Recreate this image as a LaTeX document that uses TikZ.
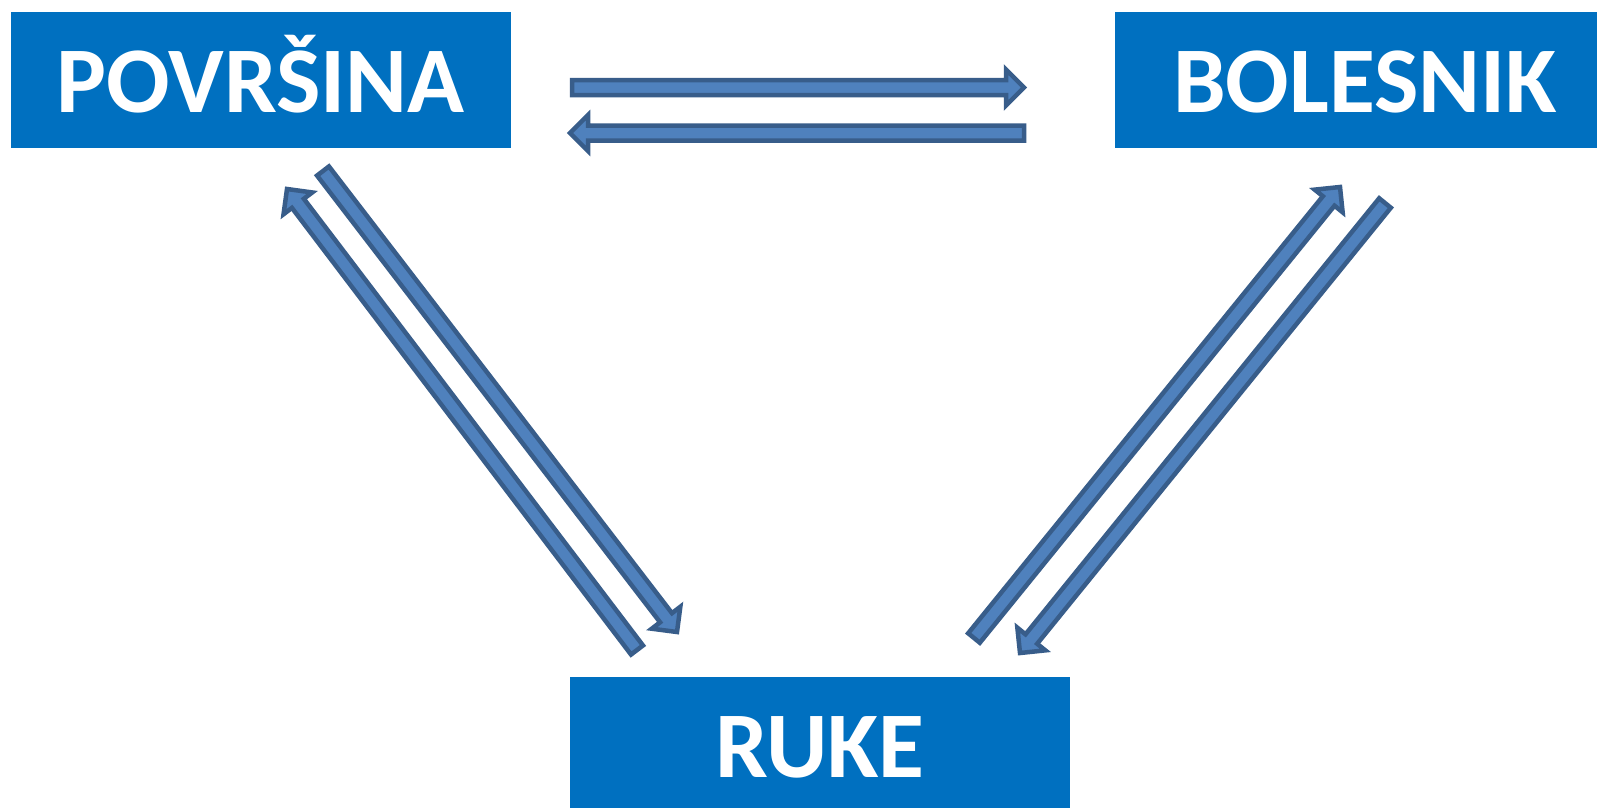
\documentclass[tikz,border=0pt]{standalone}
\usepackage{fontspec}
\setmainfont{Carlito}
\usetikzlibrary{calc}
\definecolor{boxblue}{HTML}{0070C0}
\definecolor{arrfill}{HTML}{4F81BD}
\definecolor{arrline}{HTML}{385D8A}
\tikzset{
  box/.style={fill=boxblue, draw=none, minimum width=500pt, minimum height=136pt,
    inner sep=0pt, text height=65pt, text depth=0pt, text=white,
    font=\fontsize{94}{100}\selectfont\bfseries},
  barrow/.style={fill=arrfill, draw=arrline, line width=4.5pt, line join=miter}
}
\newcommand\blockarr[2]{%
  \coordinate (hb) at ($(#2)!18pt!(#1)$);
  \draw[barrow] ($(#1)!7.5pt!90:(#2)$) -- ($(hb)!7.5pt!90:(#2)$) -- ($(hb)!18pt!90:(#2)$)
    -- (#2) -- ($(hb)!18pt!-90:(#2)$) -- ($(hb)!7.5pt!-90:(#2)$) -- ($(#1)!7.5pt!-90:(#2)$) -- cycle;}
\begin{document}
\begin{tikzpicture}[x=1pt,y=-1pt]
  \clip (0,0) rectangle (1597,807);
  \fill[white] (0,0) rectangle (1597,807);
  \node[box] (pov) at (260.5,80) {POVRŠINA};
  \node[box] (bol) at (1365,80) {BOLESNIK};
  \node[box] (ruke) at (820,745) {RUKE};
  % horizontal arrows
  \coordinate (t1) at (572,87.5);  \coordinate (h1) at (1024,87.5);
  \coordinate (t2) at (1024,133);  \coordinate (h2) at (570,133);
  % left pair
  \coordinate (t3) at (323,171);   \coordinate (h3) at (677,632);
  \coordinate (t4) at (637,650);   \coordinate (h4) at (287,189);
  % right pair
  \coordinate (t5) at (974,638);   \coordinate (h5) at (1340,187);
  \coordinate (t6) at (1385,203);  \coordinate (h6) at (1020,653);
  \blockarr{t1}{h1}
  \blockarr{t2}{h2}
  \blockarr{t3}{h3}
  \blockarr{t4}{h4}
  \blockarr{t5}{h5}
  \blockarr{t6}{h6}
\end{tikzpicture}
\end{document}
